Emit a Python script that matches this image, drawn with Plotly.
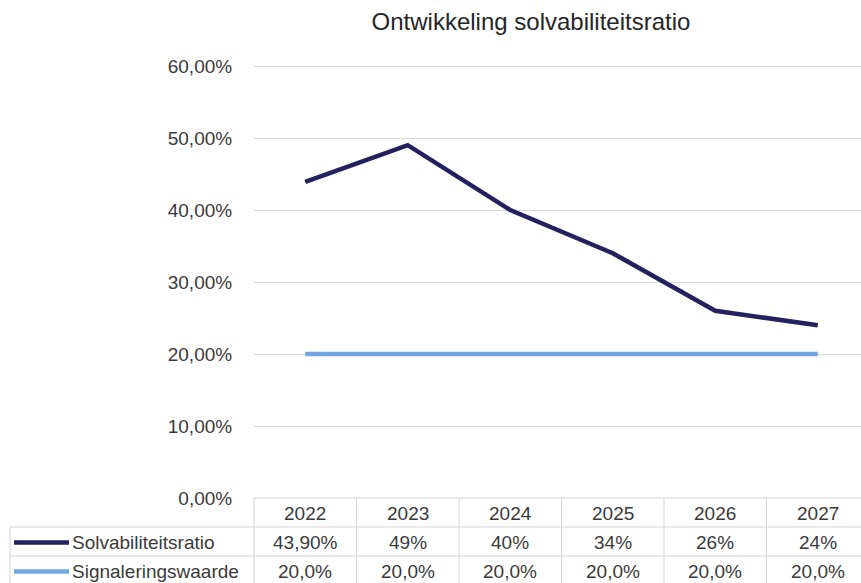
import plotly.graph_objects as go

# Data
years = ["2022", "2023", "2024", "2025", "2026", "2027"]
solvabiliteit = [0.439, 0.49, 0.40, 0.34, 0.26, 0.24]
solvabiliteit_decimals = [2, 0, 0, 0, 0, 0]
signalering = [0.20, 0.20, 0.20, 0.20, 0.20, 0.20]
signalering_decimals = [1, 1, 1, 1, 1, 1]
y_ticks = [0.0, 0.1, 0.2, 0.3, 0.4, 0.5, 0.6]

series = [
    ("Solvabiliteitsratio", solvabiliteit, solvabiliteit_decimals, "#25215f"),
    ("Signaleringswaarde", signalering, signalering_decimals, "#70a7de"),
]

W, H = 861, 583
L, R, T, B = 254, 0, 64, 85
plot_w = W - L - R
plot_h = H - T - B
col_w = 102.5
x_min = -0.5
x_max = x_min + plot_w / col_w
px_per_unit = 720.0          # 7.2 px per percentage point
y_max = plot_h / px_per_unit  # a little headroom so the top gridline shows

FONT = "Liberation Sans, Arial, sans-serif"
TEXT = "#3a3a3a"
GRID = "#d9d9d9"
BORDER = "#d4d4d4"


def fmt_pct(v, d):
    s = f"{v * 100:.{d}f}%"
    return s.replace(".", ",")


def py(px):
    """Pixel row -> paper y."""
    return (H - B - px) / plot_h


def pxx(px):
    """Pixel column -> paper x."""
    return (px - L) / plot_w


def data_to_paper_x(v):
    return (v - x_min) / (x_max - x_min)


xs = list(range(len(years)))

fig = go.Figure()
for name, vals, _, color in series:
    fig.add_trace(go.Scatter(
        x=xs, y=vals, mode="lines", name=name,
        line=dict(color=color, width=4.5),
        showlegend=False, hoverinfo="skip",
    ))

# Data table under the plot
row_tops = [H - B, H - B + 29, H - B + 58, H - B + 87]
shapes = []
line_style = dict(color=BORDER, width=1)
# header top line (data columns only)
shapes.append(dict(type="line", xref="paper", yref="paper",
                   x0=0, x1=1, y0=py(row_tops[0]), y1=py(row_tops[0]), line=line_style))
for yy in row_tops[1:]:
    shapes.append(dict(type="line", xref="paper", yref="paper",
                       x0=pxx(10), x1=1, y0=py(yy), y1=py(yy), line=line_style))
# vertical borders
shapes.append(dict(type="line", xref="paper", yref="paper",
                   x0=pxx(10), x1=pxx(10), y0=py(row_tops[1]), y1=py(row_tops[3]), line=line_style))
for i in range(len(years)):
    xb = data_to_paper_x(i - 0.5)
    shapes.append(dict(type="line", xref="paper", yref="paper",
                       x0=xb, x1=xb, y0=py(row_tops[0]), y1=py(row_tops[3]), line=line_style))

annotations = []
for i, yr in enumerate(years):
    annotations.append(dict(x=i, xref="x", y=py((row_tops[0] + row_tops[1]) / 2 + 1), yref="paper",
                            text=yr, showarrow=False, xanchor="center", yanchor="middle",
                            font=dict(family=FONT, size=19, color=TEXT)))

for r, (name, vals, decs, color) in enumerate(series):
    yc = (row_tops[r + 1] + row_tops[r + 2]) / 2 + 1
    # legend key
    shapes.append(dict(type="line", xref="paper", yref="paper",
                       x0=pxx(14), x1=pxx(69), y0=py(yc), y1=py(yc),
                       line=dict(color=color, width=4.5)))
    annotations.append(dict(x=pxx(70), xref="paper", y=py(yc), yref="paper",
                            text=name, showarrow=False, xanchor="left", yanchor="middle",
                            font=dict(family=FONT, size=19, color=TEXT)))
    for i, (v, d) in enumerate(zip(vals, decs)):
        annotations.append(dict(x=i, xref="x", y=py(yc), yref="paper",
                                text=fmt_pct(v, d), showarrow=False,
                                xanchor="center", yanchor="middle",
                                font=dict(family=FONT, size=19, color=TEXT)))

fig.update_layout(
    width=W, height=H,
    margin=dict(l=L, r=R, t=T, b=B, pad=0),
    paper_bgcolor="white", plot_bgcolor="white",
    separators=",.",
    title=dict(text="Ontwikkeling solvabiliteitsratio",
               x=531 / W, xanchor="center", y=1 - 22 / H, yanchor="middle",
               font=dict(family=FONT, size=24, color="#262626")),
    xaxis=dict(range=[x_min, x_max], showgrid=False, zeroline=False,
               showticklabels=False, showline=False, fixedrange=True),
    yaxis=dict(range=[0, y_max], tickvals=y_ticks, tickformat=".2%",
               showgrid=True, gridcolor=GRID, gridwidth=1.2, zeroline=False,
               showline=False, ticks="outside", ticklen=17,
               tickcolor="rgba(0,0,0,0)",
               tickfont=dict(family=FONT, size=19, color=TEXT), fixedrange=True),
    shapes=shapes,
    annotations=annotations,
)

fig.write_html("out.html", config={"displayModeBar": False})
